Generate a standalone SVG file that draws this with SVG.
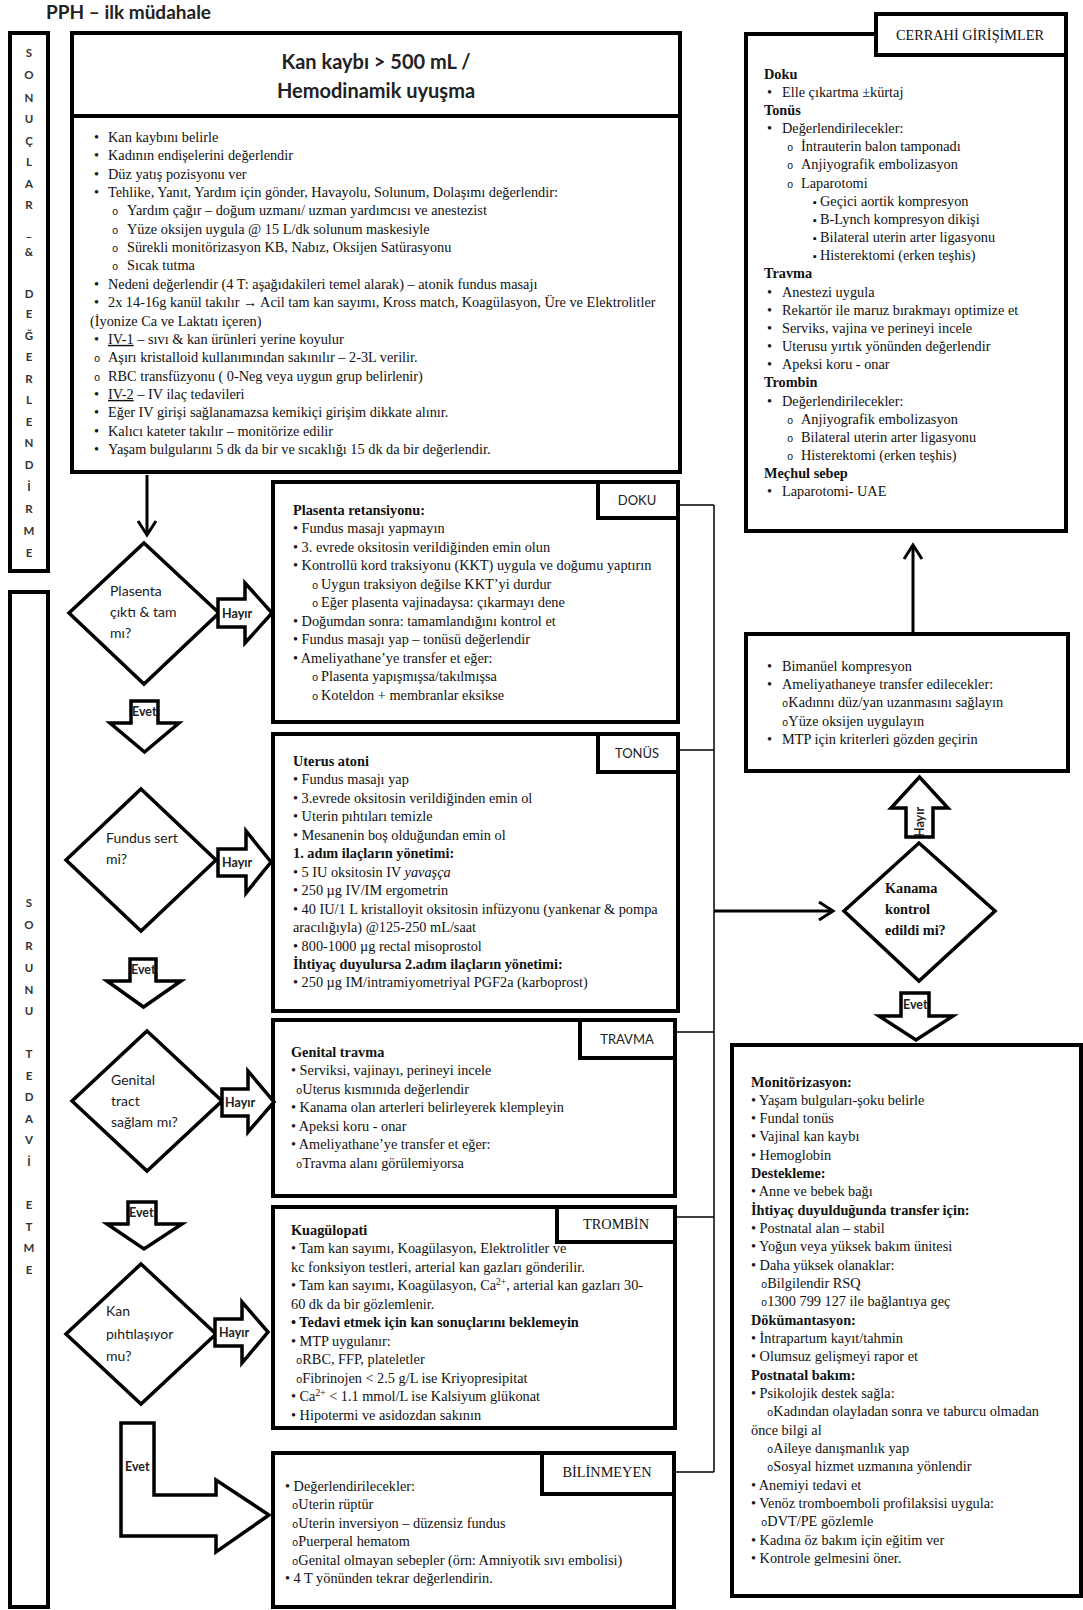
<svg xmlns="http://www.w3.org/2000/svg" width="1083" height="1610" viewBox="0 0 1083 1610">
<style>
.t{font-family:"Liberation Serif","Times New Roman",serif;font-size:14.3px;fill:#111}
.b{font-weight:bold}
.c{font-family:Lato,"Liberation Sans",sans-serif;fill:#222}
.ob{font-family:"Liberation Mono",monospace;font-size:10.5px}
.box{fill:#fff;stroke:#000;stroke-width:4}
.shp{fill:#fff;stroke:#000;stroke-width:3.5;stroke-linejoin:miter}
.conn{fill:none;stroke:#000;stroke-width:1.5}
.arr{fill:none;stroke:#000;stroke-width:3}
.let{font-family:Lato,"Liberation Sans",sans-serif;font-weight:bold;font-size:11.5px;fill:#333;text-anchor:middle}
.lab{font-family:Lato,"Liberation Sans",sans-serif;font-weight:bold;font-size:12.5px;fill:#222}
.dia{font-family:Lato,"Liberation Sans",sans-serif;font-size:14px;fill:#1a1a1a}
</style>
<rect width="1083" height="1610" fill="#fff"/>

<text x="46" y="19" class="c b" font-size="19">PPH – ilk müdahale</text>

<g id="side1">
<rect class="box" x="10" y="33" width="38" height="538"/>
<text class="let" x="29" y="57.4">S</text><text class="let" x="29" y="78.9">O</text><text class="let" x="29" y="101.5">N</text><text class="let" x="29" y="123.1">U</text><text class="let" x="29" y="144.6">Ç</text><text class="let" x="29" y="166.2">L</text><text class="let" x="29" y="187.7">A</text><text class="let" x="29" y="209.3">R</text><text class="let" x="29" y="236">_</text><text class="let" x="29" y="255.5">&amp;</text><text class="let" x="29" y="297.6">D</text><text class="let" x="29" y="318.1">E</text><text class="let" x="29" y="339.7">Ğ</text><text class="let" x="29" y="361.2">E</text><text class="let" x="29" y="382.8">R</text><text class="let" x="29" y="404.3">L</text><text class="let" x="29" y="425.9">E</text><text class="let" x="29" y="447.4">N</text><text class="let" x="29" y="469">D</text><text class="let" x="29" y="490.6">İ</text><text class="let" x="29" y="513.1">R</text><text class="let" x="29" y="534.7">M</text><text class="let" x="29" y="557.3">E</text>
</g>
<g id="side2">
<rect class="box" x="10" y="592" width="38" height="1015"/>
<text class="let" x="29" y="907.3">S</text><text class="let" x="29" y="928.9">O</text><text class="let" x="29" y="950.4">R</text><text class="let" x="29" y="972">U</text><text class="let" x="29" y="993.5">N</text><text class="let" x="29" y="1015.1">U</text><text class="let" x="29" y="1058.2">T</text><text class="let" x="29" y="1079.8">E</text><text class="let" x="29" y="1101.3">D</text><text class="let" x="29" y="1122.9">A</text><text class="let" x="29" y="1144.4">V</text><text class="let" x="29" y="1166">İ</text><text class="let" x="29" y="1209.1">E</text><text class="let" x="29" y="1230.7">T</text><text class="let" x="29" y="1252.2">M</text><text class="let" x="29" y="1273.8">E</text>
</g>

<g id="start">
<rect class="box" x="72" y="33" width="608" height="83"/>
<text class="c b" font-size="20" x="376" y="69" text-anchor="middle">Kan kaybı &gt; 500 mL /</text>
<text class="c b" font-size="20" x="376" y="98" text-anchor="middle">Hemodinamik uyuşma</text>
</g>

<g id="ilk">
<rect class="box" x="72" y="116" width="608" height="356"/>
<g class="t">
<text x="94" y="142">•</text><text x="108" y="142">Kan kaybını belirle</text>
<text x="94" y="160.35">•</text><text x="108" y="160.35">Kadının endişelerini değerlendir</text>
<text x="94" y="178.7">•</text><text x="108" y="178.7">Düz yatış pozisyonu ver</text>
<text x="94" y="197.05">•</text><text x="108" y="197.05">Tehlike, Yanıt, Yardım için gönder, Havayolu, Solunum, Dolaşımı değerlendir:</text>
<text x="112" y="215.4" class="ob">o</text><text x="127" y="215.4">Yardım çağır – doğum uzmanı/ uzman yardımcısı ve anestezist</text>
<text x="112" y="233.75" class="ob">o</text><text x="127" y="233.75">Yüze oksijen uygula @ 15 L/dk solunum maskesiyle</text>
<text x="112" y="252.1" class="ob">o</text><text x="127" y="252.1">Sürekli monitörizasyon KB, Nabız, Oksijen Satürasyonu</text>
<text x="112" y="270.45" class="ob">o</text><text x="127" y="270.45">Sıcak tutma</text>
<text x="94" y="288.8">•</text><text x="108" y="288.8">Nedeni değerlendir (4 T: aşağıdakileri temel alarak) – atonik fundus masajı</text>
<text x="94" y="307.15">•</text><text x="108" y="307.15">2x 14-16g kanül takılır → Acil tam kan sayımı, Kross match, Koagülasyon, Üre ve Elektrolitler</text>
<text x="90" y="325.5">(İyonize Ca ve Laktatı içeren)</text>
<text x="94" y="343.85">•</text><text x="108" y="343.85"><tspan text-decoration="underline">IV-1</tspan> – sıvı &amp; kan ürünleri yerine koyulur</text>
<text x="94" y="362.2" class="ob">o</text><text x="108" y="362.2">Aşırı kristalloid kullanımından sakınılır – 2-3L verilir.</text>
<text x="94" y="380.55" class="ob">o</text><text x="108" y="380.55">RBC transfüzyonu ( 0-Neg veya uygun grup belirlenir)</text>
<text x="94" y="398.9">•</text><text x="108" y="398.9"><tspan text-decoration="underline">IV-2</tspan> – IV ilaç tedavileri</text>
<text x="94" y="417.25">•</text><text x="108" y="417.25">Eğer IV girişi sağlanamazsa kemikiçi girişim dikkate alınır.</text>
<text x="94" y="435.6">•</text><text x="108" y="435.6">Kalıcı kateter takılır – monitörize edilir</text>
<text x="94" y="453.95">•</text><text x="108" y="453.95">Yaşam bulgularını 5 dk da bir ve sıcaklığı 15 dk da bir değerlendir.</text>
</g>
</g>

<g id="q1">
<polygon class="shp" points="144,543 219,613 144,684 69,613"/>
<text class="dia" x="110" y="596">Plasenta</text>
<text class="dia" x="110" y="617">çıktı &amp; tam</text>
<text class="dia" x="110" y="638">mı?</text>
</g>
<g id="q2">
<polygon class="shp" points="141,789 216,860 141,931 66,860"/>
<text class="dia" x="106" y="843">Fundus sert</text>
<text class="dia" x="106" y="864">mi?</text>
</g>
<g id="q3">
<polygon class="shp" points="147,1031 222,1101 147,1171 72,1101"/>
<text class="dia" x="111" y="1085">Genital</text>
<text class="dia" x="111" y="1106">tract</text>
<text class="dia" x="111" y="1127">sağlam mı?</text>
</g>
<g id="q4">
<polygon class="shp" points="141,1264 216,1334 141,1404 66,1334"/>
<text class="dia" x="106" y="1316">Kan</text>
<text class="dia" x="106" y="1339">pıhtılaşıyor</text>
<text class="dia" x="106" y="1361">mu?</text>
</g>

<g id="doku">
<rect class="box" x="273" y="482" width="405" height="240"/>
<g class="t">
<text x="293" y="515" class="b">Plasenta retansiyonu:</text>
<text x="293" y="533.45">• Fundus masajı yapmayın</text>
<text x="293" y="551.9">• 3. evrede oksitosin verildiğinden emin olun</text>
<text x="293" y="570.35">• Kontrollü kord traksiyonu (KKT) uygula ve doğumu yaptırın</text>
<text x="312" y="588.8" class="ob">o</text><text x="321" y="588.8">Uygun traksiyon değilse KKT’yi durdur</text>
<text x="312" y="607.25" class="ob">o</text><text x="321" y="607.25">Eğer plasenta vajinadaysa: çıkarmayı dene</text>
<text x="293" y="625.7">• Doğumdan sonra: tamamlandığını kontrol et</text>
<text x="293" y="644.15">• Fundus masajı yap – tonüsü değerlendir</text>
<text x="293" y="662.6">• Ameliyathane’ye transfer et eğer:</text>
<text x="312" y="681.05" class="ob">o</text><text x="321" y="681.05">Plasenta yapışmışsa/takılmışsa</text>
<text x="312" y="699.5" class="ob">o</text><text x="321" y="699.5">Koteldon + membranlar eksikse</text>
</g>
<rect class="box" x="598" y="482" width="80" height="36"/>
<text class="c" font-size="13" x="637" y="505" text-anchor="middle">DOKU</text>
</g>

<g id="tonus">
<rect class="box" x="273" y="734" width="405" height="277"/>
<g class="t">
<text x="293" y="766" class="b">Uterus atoni</text>
<text x="293" y="784.45">• Fundus masajı yap</text>
<text x="293" y="802.9">• 3.evrede oksitosin verildiğinden emin ol</text>
<text x="293" y="821.35">• Uterin pıhtıları temizle</text>
<text x="293" y="839.8">• Mesanenin boş olduğundan emin ol</text>
<text x="293" y="858.25" class="b">1. adım ilaçların yönetimi:</text>
<text x="293" y="876.7">• 5 IU oksitosin IV <tspan font-style="italic">yavaşça</tspan></text>
<text x="293" y="895.15">• 250 µg IV/IM ergometrin</text>
<text x="293" y="913.6">• 40 IU/1 L kristalloyit oksitosin infüzyonu (yankenar &amp; pompa</text>
<text x="293" y="932.05">aracılığıyla) @125-250 mL/saat</text>
<text x="293" y="950.5">• 800-1000 µg rectal misoprostol</text>
<text x="293" y="968.95" class="b">İhtiyaç duyulursa 2.adım ilaçların yönetimi:</text>
<text x="293" y="987.4">• 250 µg IM/intramiyometriyal PGF2a (karboprost)</text>
</g>
<rect class="box" x="598" y="734" width="80" height="38"/>
<text class="c" font-size="13" x="637" y="758" text-anchor="middle">TONÜS</text>
</g>

<g id="travma">
<rect class="box" x="273" y="1020" width="402" height="176"/>
<g class="t">
<text x="291" y="1057" class="b">Genital travma</text>
<text x="291" y="1075.45">• Serviksi, vajinayı, perineyi incele</text>
<text x="296" y="1093.9"><tspan class="ob">o</tspan>Uterus kısmınıda değerlendir</text>
<text x="291" y="1112.35">• Kanama olan arterleri belirleyerek klempleyin</text>
<text x="291" y="1130.8">• Apeksi koru - onar</text>
<text x="291" y="1149.25">• Ameliyathane’ye transfer et eğer:</text>
<text x="296" y="1167.7"><tspan class="ob">o</tspan>Travma alanı görülemiyorsa</text>
</g>
<rect class="box" x="580" y="1020" width="95" height="38"/>
<text class="c" font-size="13" x="627" y="1043.5" text-anchor="middle">TRAVMA</text>
</g>

<g id="trombin">
<rect class="box" x="273" y="1207" width="402" height="221"/>
<g class="t">
<text x="291" y="1235" class="b">Kuagülopati</text>
<text x="291" y="1253.45">• Tam kan sayımı, Koagülasyon, Elektrolitler ve</text>
<text x="291" y="1271.9">kc fonksiyon testleri, arterial kan gazları gönderilir.</text>
<text x="291" y="1290.35">• Tam kan sayımı, Koagülasyon, Ca<tspan font-size="9.5" dy="-5">2+</tspan><tspan dy="5">, arterial kan gazları 30-</tspan></text>
<text x="291" y="1308.8">60 dk da bir gözlemlenir.</text>
<text x="291" y="1327.25" class="b">• Tedavi etmek için kan sonuçlarını beklemeyin</text>
<text x="291" y="1345.7">• MTP uygulanır:</text>
<text x="296" y="1364.15"><tspan class="ob">o</tspan>RBC, FFP, plateletler</text>
<text x="296" y="1382.6"><tspan class="ob">o</tspan>Fibrinojen &lt; 2.5 g/L ise Kriyopresipitat</text>
<text x="291" y="1401.05">• Ca<tspan font-size="9.5" dy="-5">2+</tspan><tspan dy="5"> &lt; 1.1 mmol/L ise Kalsiyum glükonat</tspan></text>
<text x="291" y="1419.5">• Hipotermi ve asidozdan sakının</text>
</g>
<rect class="box" x="557" y="1207" width="118" height="35"/>
<text class="t" x="616" y="1229" text-anchor="middle">TROMBİN</text>
</g>

<g id="bilinmeyen">
<rect class="box" x="273" y="1453" width="401" height="154"/>
<g class="t">
<text x="285" y="1491">• Değerlendirilecekler:</text>
<text x="292" y="1509.45"><tspan class="ob">o</tspan>Uterin rüptür</text>
<text x="292" y="1527.9"><tspan class="ob">o</tspan>Uterin inversiyon – düzensiz fundus</text>
<text x="292" y="1546.35"><tspan class="ob">o</tspan>Puerperal hematom</text>
<text x="292" y="1564.8"><tspan class="ob">o</tspan>Genital olmayan sebepler (örn: Amniyotik sıvı embolisi)</text>
<text x="285" y="1583.25">• 4 T yönünden tekrar değerlendirin.</text>
</g>
<rect class="box" x="542" y="1453" width="132" height="41"/>
<text class="t" x="607" y="1477" text-anchor="middle">BİLİNMEYEN</text>
</g>

<g id="cerrahi">
<rect class="box" x="746" y="34" width="320" height="497"/>
<rect class="box" x="876" y="14" width="190" height="41"/>
<text class="t" x="970" y="40" text-anchor="middle">CERRAHİ GİRİŞİMLER</text>
<g class="t">
<text x="764" y="78.5" class="b">Doku</text>
<text x="767" y="96.67">•</text><text x="782" y="96.67">Elle çıkartma ±kürtaj</text>
<text x="764" y="114.84" class="b">Tonüs</text>
<text x="767" y="133.01">•</text><text x="782" y="133.01">Değerlendirilecekler:</text>
<text x="787" y="151.18" class="ob">o</text><text x="801" y="151.18">İntrauterin balon tamponadı</text>
<text x="787" y="169.35" class="ob">o</text><text x="801" y="169.35">Anjiyografik embolizasyon</text>
<text x="787" y="187.52" class="ob">o</text><text x="801" y="187.52">Laparotomi</text>
<text x="813" y="205.69" font-size="11">▪</text><text x="820" y="205.69">Geçici aortik kompresyon</text>
<text x="813" y="223.86" font-size="11">▪</text><text x="820" y="223.86">B-Lynch kompresyon dikişi</text>
<text x="813" y="242.03" font-size="11">▪</text><text x="820" y="242.03">Bilateral uterin arter ligasyonu</text>
<text x="813" y="260.2" font-size="11">▪</text><text x="820" y="260.2">Histerektomi (erken teşhis)</text>
<text x="764" y="278.37" class="b">Travma</text>
<text x="767" y="296.54">•</text><text x="782" y="296.54">Anestezi uygula</text>
<text x="767" y="314.71">•</text><text x="782" y="314.71">Rekartör ile maruz bırakmayı optimize et</text>
<text x="767" y="332.88">•</text><text x="782" y="332.88">Serviks, vajina ve perineyi incele</text>
<text x="767" y="351.05">•</text><text x="782" y="351.05">Uterusu yırtık yönünden değerlendir</text>
<text x="767" y="369.22">•</text><text x="782" y="369.22">Apeksi koru - onar</text>
<text x="764" y="387.39" class="b">Trombin</text>
<text x="767" y="405.56">•</text><text x="782" y="405.56">Değerlendirilecekler:</text>
<text x="787" y="423.73" class="ob">o</text><text x="801" y="423.73">Anjiyografik embolizasyon</text>
<text x="787" y="441.9" class="ob">o</text><text x="801" y="441.9">Bilateral uterin arter ligasyonu</text>
<text x="787" y="460.07" class="ob">o</text><text x="801" y="460.07">Histerektomi (erken teşhis)</text>
<text x="764" y="478.24" class="b">Meçhul sebep</text>
<text x="767" y="496.41">•</text><text x="782" y="496.41">Laparotomi- UAE</text>
</g>
</g>

<g id="bimanuel">
<rect class="box" x="746" y="634" width="322" height="137"/>
<g class="t">
<text x="767" y="671">•</text><text x="782" y="671">Bimanüel kompresyon</text>
<text x="767" y="689.2">•</text><text x="782" y="689.2">Ameliyathaneye transfer edilecekler:</text>
<text x="782" y="707.4"><tspan class="ob">o</tspan>Kadınnı düz/yan uzanmasını sağlayın</text>
<text x="782" y="725.6"><tspan class="ob">o</tspan>Yüze oksijen uygulayın</text>
<text x="767" y="743.8">•</text><text x="782" y="743.8">MTP için kriterleri gözden geçirin</text>
</g>
</g>

<g id="kanama">
<polygon class="shp" points="919,843 995,911 919,981 844,911"/>
<text class="t b" font-size="14" x="885" y="893">Kanama</text>
<text class="t b" font-size="14" x="885" y="914">kontrol</text>
<text class="t b" font-size="14" x="885" y="935">edildi mi?</text>
</g>

<g id="monitor">
<rect class="box" x="732" y="1045" width="349" height="551"/>
<g class="t">
<text x="751" y="1086.5" class="b">Monitörizasyon:</text>
<text x="751" y="1104.82">• Yaşam bulguları-şoku belirle</text>
<text x="751" y="1123.14">• Fundal tonüs</text>
<text x="751" y="1141.46">• Vajinal kan kaybı</text>
<text x="751" y="1159.78">• Hemoglobin</text>
<text x="751" y="1178.1" class="b">Destekleme:</text>
<text x="751" y="1196.42">• Anne ve bebek bağı</text>
<text x="751" y="1214.74" class="b">İhtiyaç duyulduğunda transfer için:</text>
<text x="751" y="1233.06">• Postnatal alan – stabil</text>
<text x="751" y="1251.38">• Yoğun veya yüksek bakım ünitesi</text>
<text x="751" y="1269.7">• Daha yüksek olanaklar:</text>
<text x="761" y="1288.02"><tspan class="ob">o</tspan>Bilgilendir RSQ</text>
<text x="761" y="1306.34"><tspan class="ob">o</tspan>1300 799 127 ile bağlantıya geç</text>
<text x="751" y="1324.66" class="b">Dökümantasyon:</text>
<text x="751" y="1342.98">• İntrapartum kayıt/tahmin</text>
<text x="751" y="1361.3">• Olumsuz gelişmeyi rapor et</text>
<text x="751" y="1379.62" class="b">Postnatal bakım:</text>
<text x="751" y="1397.94">• Psikolojik destek sağla:</text>
<text x="767" y="1416.26"><tspan class="ob">o</tspan>Kadından olayladan sonra ve  taburcu olmadan</text>
<text x="751" y="1434.58">önce bilgi al</text>
<text x="767" y="1452.9"><tspan class="ob">o</tspan>Aileye danışmanlık yap</text>
<text x="767" y="1471.22"><tspan class="ob">o</tspan>Sosyal hizmet uzmanına yönlendir</text>
<text x="751" y="1489.54">• Anemiyi tedavi et</text>
<text x="751" y="1507.86">• Venöz tromboemboli profilaksisi uygula:</text>
<text x="761" y="1526.18"><tspan class="ob">o</tspan>DVT/PE gözlemle</text>
<text x="751" y="1544.5">• Kadına öz bakım için eğitim ver</text>
<text x="751" y="1562.82">• Kontrole gelmesini öner.</text>
</g>
</g>

<g id="connectors">
<line class="arr" x1="147" y1="475" x2="147" y2="534"/>
<polyline class="arr" points="138,521 147,535 156,521"/>
<line class="conn" x1="678" y1="505" x2="714" y2="505"/>
<line class="conn" x1="678" y1="750" x2="714" y2="750"/>
<line class="conn" x1="675" y1="1032" x2="714" y2="1032"/>
<line class="conn" x1="675" y1="1217" x2="714" y2="1217"/>
<line class="conn" x1="674" y1="1472" x2="714" y2="1472"/>
<line class="conn" x1="714" y1="505" x2="714" y2="1472"/>
<line class="arr" x1="714" y1="911" x2="832" y2="911"/>
<polyline class="arr" points="819,902 833,911 819,920"/>
<line class="arr" x1="913" y1="632" x2="913" y2="546"/>
<polyline class="arr" points="904,559 913,545 922,559"/>

<polygon class="shp" points="218,599 245,599 245,583 272,613 245,643 245,627 218,627"/>
<text class="lab" x="222" y="617.5">Hayır</text>
<polygon class="shp" points="218,849 246,849 246,831 271,862 246,893 246,876 218,876"/>
<text class="lab" x="222" y="866.5">Hayır</text>
<polygon class="shp" points="222,1089 248,1089 248,1071 274,1102 248,1132 248,1116 222,1116"/>
<text class="lab" x="225" y="1106.5">Hayır</text>
<polygon class="shp" points="215,1319 242,1319 242,1302 268,1332 242,1363 242,1346 215,1346"/>
<text class="lab" x="219" y="1336.5">Hayır</text>

<polygon class="shp" points="131,701 158,701 158,723 179,723 144.5,752 110,723 131,723"/>
<text class="lab" x="132" y="716">Evet</text>
<polygon class="shp" points="130,959 156,959 156,981 181,981 143.5,1007 107,981 130,981"/>
<text class="lab" x="131" y="974">Evet</text>
<polygon class="shp" points="128,1202 156,1202 156,1224 182,1224 144,1249 107,1224 128,1224"/>
<text class="lab" x="129" y="1217">Evet</text>
<polygon class="shp" points="121,1423 154,1423 154,1495 216,1495 216,1480 269,1515 216,1552 216,1536 121,1536"/>
<text class="lab" x="125" y="1471">Evet</text>

<polygon class="shp" points="906,837 933,837 933,808 948,808 919.5,777 891,808 906,808"/>
<text class="lab" transform="translate(924,822) rotate(-90)" text-anchor="middle">Hayır</text>
<polygon class="shp" points="901,993 929,993 929,1016 953,1016 916,1040 879,1016 901,1016"/>
<text class="lab" x="903" y="1009">Evet</text>
</g>
</svg>
